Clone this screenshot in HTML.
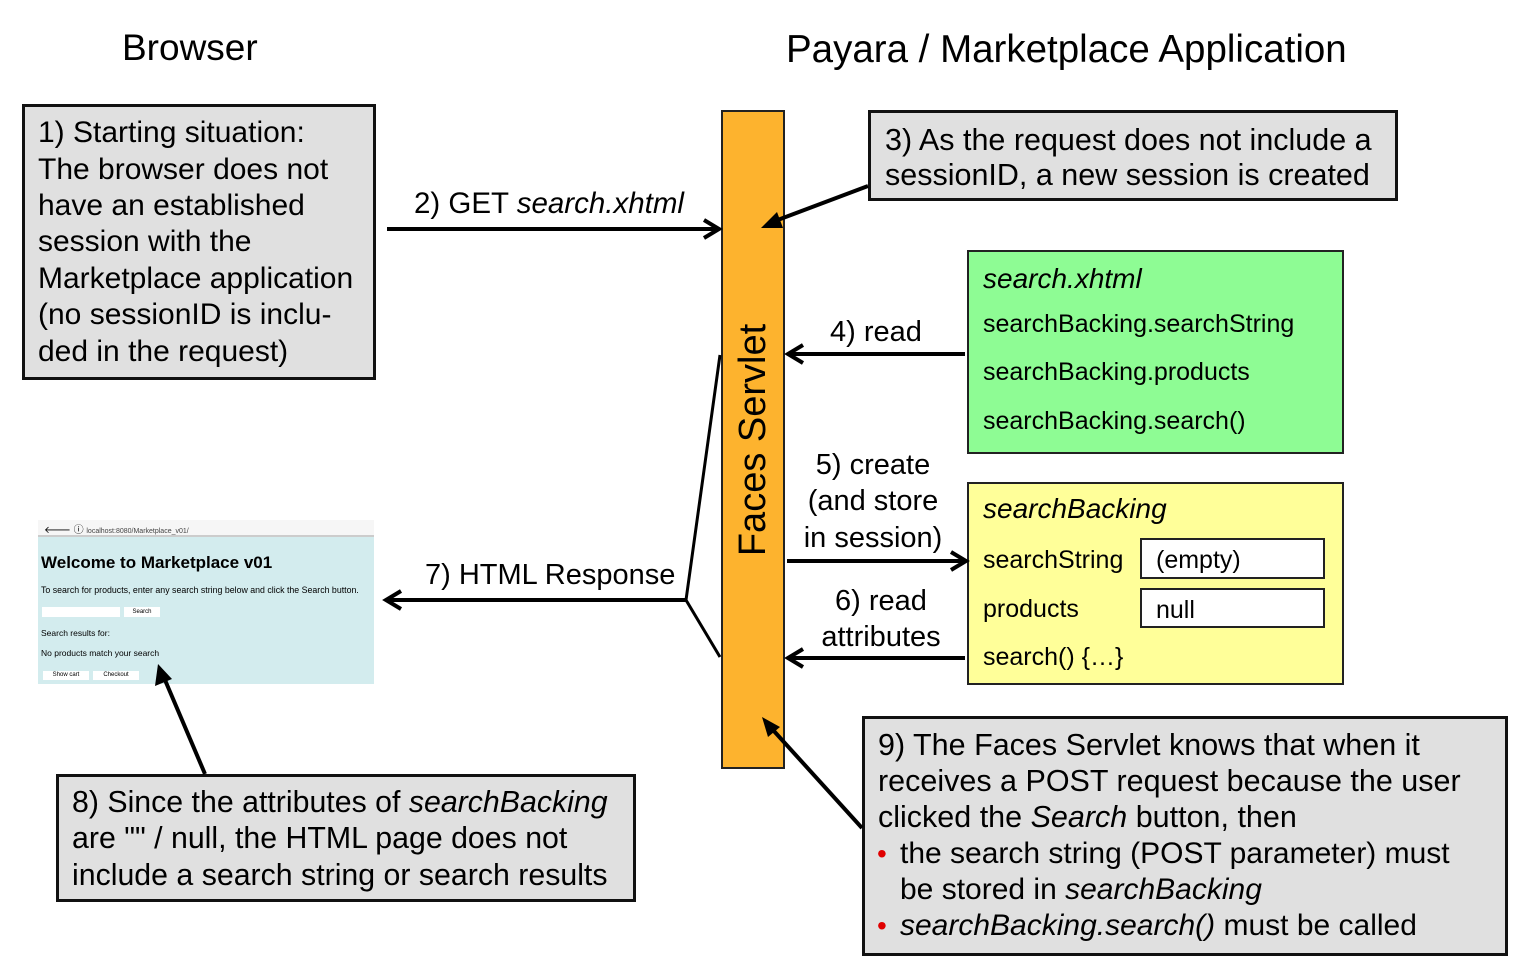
<!DOCTYPE html>
<html><head><meta charset="utf-8"><style>
body{margin:0;width:1522px;height:970px;background:#fff;position:relative;overflow:hidden;font-family:"Liberation Sans","DejaVu Sans",sans-serif;color:#000}
.a{position:absolute;white-space:nowrap}
.t{position:absolute;white-space:nowrap;font-size:29.5px;line-height:36px;height:36px}
.box{position:absolute;box-sizing:border-box}
i{font-style:italic}
.r{color:#e00000}
</style></head><body>
<div class="a" style="left:122px;top:26px;font-size:37px;line-height:44px">Browser</div>
<div class="a" style="left:786px;top:28px;font-size:38.5px;line-height:44px">Payara / Marketplace Application</div>

<div class="box" style="left:22px;top:104px;width:354px;height:276px;background:#e0e0e0;border:3px solid #111"></div>
<div class="t" style="left:38px;top:115px;font-size:30px">1) Starting situation:</div>
<div class="t" style="left:38px;top:152px;font-size:30px">The browser does not</div>
<div class="t" style="left:38px;top:188px;font-size:30px">have an established</div>
<div class="t" style="left:38px;top:224px;font-size:30px">session with the</div>
<div class="t" style="left:38px;top:261px;font-size:30px">Marketplace application</div>
<div class="t" style="left:38px;top:297px;font-size:30px">(no sessionID is inclu-</div>
<div class="t" style="left:38px;top:334px;font-size:30px">ded in the request)</div>

<div class="box" style="left:721px;top:110px;width:64px;height:659px;background:#fdb32e;border:2px solid #222"></div>
<div class="a" style="left:753px;top:440px;font-size:38px;line-height:44px;transform:translate(-50%,-50%) rotate(-90deg)">Faces Servlet</div>

<div class="box" style="left:868px;top:110px;width:530px;height:91px;background:#e0e0e0;border:3px solid #111"></div>
<div class="t" style="left:885px;top:122px;font-size:30.5px">3) As the request does not include a</div>
<div class="t" style="left:885px;top:157px;font-size:30.5px">sessionID, a new session is created</div>

<div class="box" style="left:967px;top:250px;width:377px;height:204px;background:#8efc94;border:2px solid #222"></div>
<div class="t" style="left:983px;top:261px;font-size:28px"><i>search.xhtml</i></div>
<div class="t" style="left:983px;top:306px;font-size:25px">searchBacking.searchString</div>
<div class="t" style="left:983px;top:354px;font-size:25px">searchBacking.products</div>
<div class="t" style="left:983px;top:403px;font-size:25px">searchBacking.search()</div>

<div class="box" style="left:967px;top:482px;width:377px;height:203px;background:#ffff99;border:2px solid #222"></div>
<div class="t" style="left:983px;top:491px;font-size:28px"><i>searchBacking</i></div>
<div class="t" style="left:983px;top:542px;font-size:25px">searchString</div>
<div class="t" style="left:983px;top:591px;font-size:25px">products</div>
<div class="t" style="left:983px;top:639px;font-size:25px">search() {…}</div>
<div class="box" style="left:1140px;top:538px;width:185px;height:41px;background:#fff;border:2px solid #222"></div>
<div class="box" style="left:1140px;top:588px;width:185px;height:40px;background:#fff;border:2px solid #222"></div>
<div class="t" style="left:1156px;top:542px;font-size:25px">(empty)</div>
<div class="t" style="left:1156px;top:592px;font-size:25px">null</div>

<div class="t" style="left:414px;top:186px;font-size:29.5px">2) GET <i>search.xhtml</i></div>
<div class="t" style="left:830px;top:314px;font-size:29px">4) read</div>
<div class="t" style="left:798px;top:447px;width:150px;text-align:center;font-size:29px">5) create</div>
<div class="t" style="left:798px;top:483px;width:150px;text-align:center;font-size:29px">(and store</div>
<div class="t" style="left:798px;top:520px;width:150px;text-align:center;font-size:29px">in session)</div>
<div class="t" style="left:806px;top:583px;width:150px;text-align:center;font-size:29px">6) read</div>
<div class="t" style="left:806px;top:619px;width:150px;text-align:center;font-size:29px">attributes</div>
<div class="t" style="left:425px;top:557px;font-size:29px">7) HTML Response</div>

<!-- screenshot -->
<div class="box" style="left:38px;top:520px;width:336px;height:164px;background:#d3ecee"></div>
<div class="box" style="left:38px;top:520px;width:336px;height:17px;background:#f6f6f6;border-bottom:2px solid #ccc"></div>
<div class="a" style="left:44px;top:521px;font-size:10px">🡐 ⓘ <span style="font-size:7px;color:#444">localhost:8080/Marketplace_v01/</span></div>
<div class="a" style="left:41px;top:553px;font-size:17px;font-weight:bold">Welcome to Marketplace v01</div>
<div class="a" style="left:41px;top:585px;font-size:8.8px">To search for products, enter any search string below and click the Search button.</div>
<div class="box" style="left:42px;top:607px;width:78px;height:10px;background:#fff"></div>
<div class="box" style="left:124px;top:607px;width:36px;height:10px;background:#fff;font-size:6px;text-align:center;line-height:10px">Search</div>
<div class="a" style="left:41px;top:628px;font-size:8.5px">Search results for:</div>
<div class="a" style="left:41px;top:648px;font-size:8.5px">No products match your search</div>
<div class="box" style="left:43px;top:671px;width:46px;height:9px;background:#fff;font-size:6px;text-align:center;line-height:9px">Show cart</div>
<div class="box" style="left:93px;top:671px;width:46px;height:9px;background:#fff;font-size:6px;text-align:center;line-height:9px">Checkout</div>

<div class="box" style="left:56px;top:774px;width:580px;height:128px;background:#e0e0e0;border:3px solid #111"></div>
<div class="t" style="left:72px;top:785px;font-size:30.3px">8) Since the attributes of <i>searchBacking</i></div>
<div class="t" style="left:72px;top:821px;font-size:30.3px">are "" / null, the HTML page does not</div>
<div class="t" style="left:72px;top:858px;font-size:30.3px">include a search string or search results</div>

<div class="box" style="left:862px;top:716px;width:646px;height:240px;background:#e0e0e0;border:3px solid #111"></div>
<div class="t" style="left:878px;top:727px;font-size:30.5px">9) The Faces Servlet knows that when it</div>
<div class="t" style="left:878px;top:763px;font-size:30.5px">receives a POST request because the user</div>
<div class="t" style="left:878px;top:799px;font-size:30.5px">clicked the <i>Search</i> button, then</div>
<div class="t r" style="left:877px;top:836px;font-size:28px">•</div>
<div class="t" style="left:900px;top:836px;font-size:30px">the search string (POST parameter) must</div>
<div class="t" style="left:900px;top:872px;font-size:30px">be stored in <i>searchBacking</i></div>
<div class="t r" style="left:877px;top:908px;font-size:28px">•</div>
<div class="t" style="left:900px;top:908px;font-size:30px"><i>searchBacking.search()</i> must be called</div>

<svg class="a" style="left:0;top:0" width="1522" height="970">
<g stroke="#000" stroke-width="4" fill="none">
<line x1="387" y1="229" x2="718" y2="229"/><polyline points="704,220 719,229 704,238"/>
<line x1="868" y1="186" x2="775" y2="221"/>
<line x1="965" y1="354" x2="790" y2="354"/><polyline points="803,345 788,354 803,363"/>
<line x1="787" y1="561" x2="964" y2="561"/><polyline points="951,552 966,561 951,570"/>
<line x1="965" y1="658" x2="790" y2="658"/><polyline points="803,649 788,658 803,667"/>
<polyline points="720,355 686,600 720,657" stroke-width="3"/>
<line x1="686" y1="600" x2="388" y2="600"/><polyline points="401,591 386,600 401,609"/>
<line x1="205" y1="774" x2="165" y2="680"/>
<line x1="862" y1="828" x2="773" y2="730"/>
</g>
<g fill="#000">
<polygon points="761,228 777,212 783,228"/>
<polygon points="158,664 155,686 172,679"/>
<polygon points="762,717 768,737 780,727"/>
</g>
</svg>
</body></html>
